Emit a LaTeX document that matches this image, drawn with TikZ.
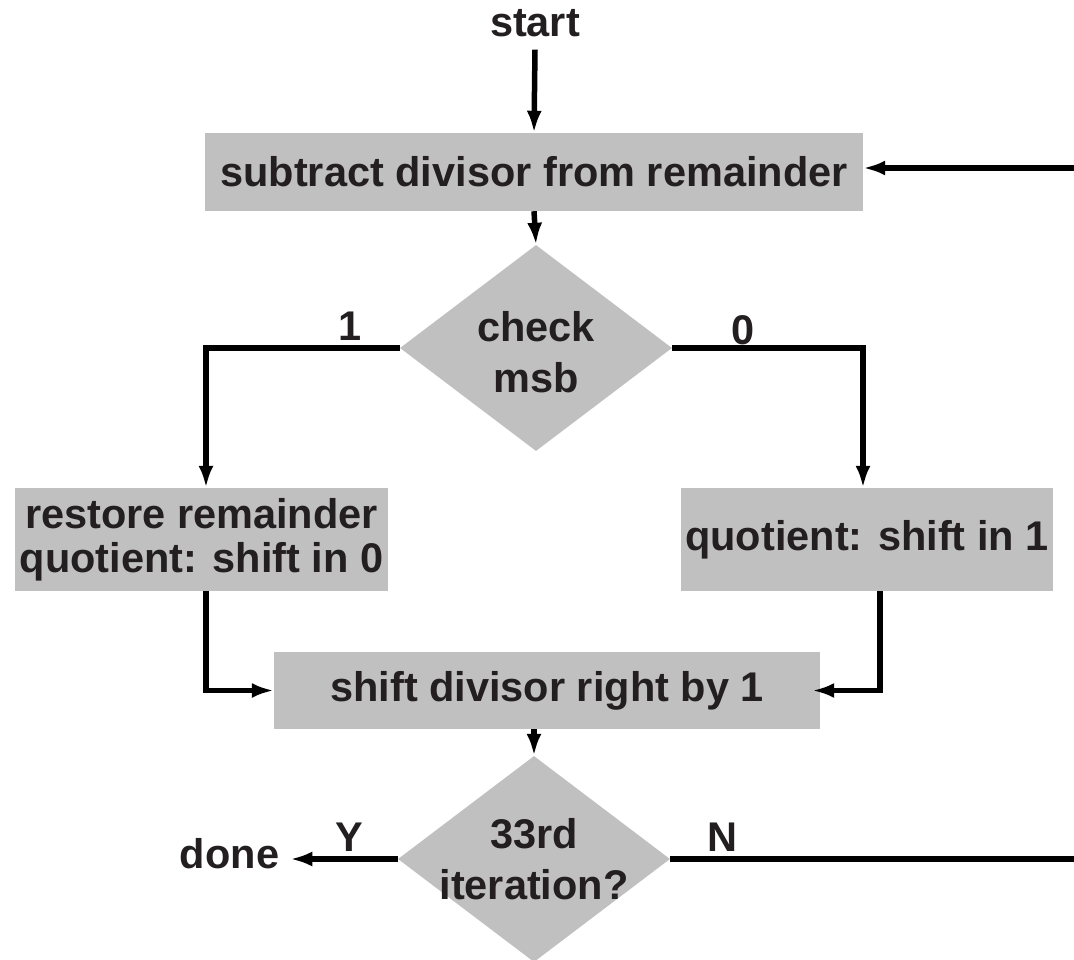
\documentclass[tikz,border=0pt]{standalone}
\usepackage{fontspec}
\setmainfont{Liberation Sans}
\usetikzlibrary{positioning}
\usetikzlibrary{calc}
\usetikzlibrary{arrows.meta,shapes.geometric}
\definecolor{boxgray}{HTML}{C0C0C0}
\definecolor{inkdark}{HTML}{231F20}

\begin{document}
\begin{tikzpicture}[x=1pt,y=-1pt]
\tikzstyle{stepbox} =[rectangle,fill=boxgray,inner sep=0pt,align=center,text=inkdark,font=\bfseries\fontsize{41.5}{44}\selectfont]
\tikzstyle{decision} =[diamond,fill=boxgray,inner sep=0pt,minimum width=272pt,minimum height=206pt]
\tikzstyle{lbl} =[inner sep=0pt,align=center,text=inkdark,font=\bfseries\fontsize{41.5}{51}\selectfont]
\tikzstyle{flow} =[line width=5.5pt,-{Latex[length=22pt,width=15pt]}]
\tikzstyle{wire} =[line width=5.5pt]
\useasboundingbox (0,0) rectangle (1074,960);

\node[lbl,anchor=base](start) at (535,37) {start};
\node[stepbox,minimum width=658pt,minimum height=78pt](sub) at (534,172) {subtract divisor from remainder};
\coordinate (loopin) at (1074,168);
\draw[flow] (start.south)++(0,12) -- (sub.north);
\draw[flow] (loopin) -- (loopin -| sub.east);

\node[decision](msb) at (536,348) {};
\node[lbl](msbtext) at (536,352) {check\\msb};
\draw[flow] (sub.south) -- (msb.north);

\node[stepbox,minimum width=373pt,minimum height=103pt](restore) at (201.5,539.5) {restore remainder\\quotient: shift in 0};
\node[stepbox,minimum width=372pt,minimum height=103pt](shiftone) at (867,539.5) {quotient: shift in 1};
\draw[flow] (msb.west) -| ([xshift=4.5pt]restore.north);
\draw[flow] (msb.east) -| ([xshift=-4pt]shiftone.north);
\node[lbl,anchor=base](one) at (350,340) {1};
\node[lbl,anchor=base](zero) at (743,344) {0};

\node[stepbox,minimum width=546pt,minimum height=77pt](shiftdiv) at (547,690.5) {shift divisor right by 1};
\draw[flow] ([xshift=4.5pt]restore.south) |- (shiftdiv.west);
\draw[flow,shorten >=-8pt] ([xshift=13pt]shiftone.south) |- (shiftdiv.east);

\node[decision](iter) at (534,859) {};
\node[lbl](itertext) at (534,859) {33rd\\iteration?};
\draw[flow] (shiftdiv.south -| iter.north) -- (iter.north);

\node[lbl,anchor=base](done) at (229.5,868) {done};
\coordinate (loopout) at (1074,859);
\draw[flow,shorten >=11pt] (iter.west) -- (done.east |- iter.west);
\draw[wire] (iter.east) -- (loopout);
\node[lbl,anchor=base](yes) at (349,851) {Y};
\node[lbl,anchor=base](no) at (722,851) {N};
\end{tikzpicture}
\end{document}
